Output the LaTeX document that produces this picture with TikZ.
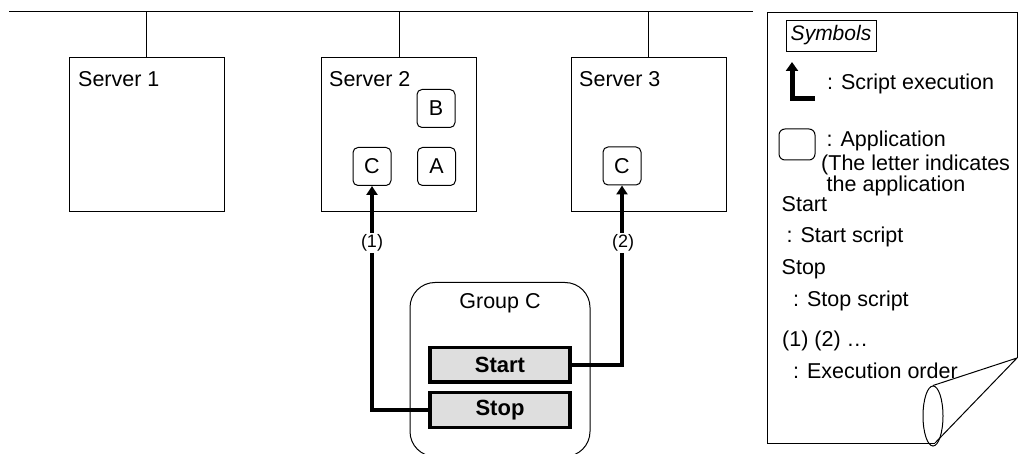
\documentclass[tikz,border=0pt]{standalone}
\usepackage{fontspec}
\setmainfont{Liberation Sans}
\usetikzlibrary{arrows.meta,calc,shapes.geometric}
\begin{document}
\begin{tikzpicture}[x=1pt,y=-1pt,
  font=\fontsize{21.5}{24}\selectfont,
  thinline/.style={line width=1pt},
  server/.style={draw, line width=1pt, minimum width=155pt, minimum height=154pt, inner sep=0pt},
  app/.style={draw, line width=1pt, rounded corners=5pt, minimum width=38pt, minimum height=38pt, inner sep=0pt},
  scriptbox/.style={draw, line width=3.5pt, fill=black!13, minimum width=140pt, minimum height=34.5pt, inner sep=0pt, font=\fontsize{22}{24}\selectfont\bfseries},
  exec/.style={line width=4pt, -{Triangle[length=9pt,width=11pt]}},
  order/.style={fill=white, inner sep=2pt, font=\fontsize{18}{20}\selectfont},
  txt/.style={inner sep=0pt, anchor=base west},
  group/.style={draw, line width=1pt, rounded corners=25pt, minimum width=180pt, minimum height=174pt, inner sep=0pt}
]
\useasboundingbox (0,0) rectangle (1018,454);

% LAN line
\coordinate (lanL) at (9,12);
\coordinate (lanR) at (753,12);
\draw[thinline] (lanL) -- (lanR);

% servers
\node[server] (s1) at (146.5,135) {};
\node[server] (s2) at (399,135) {};
\node[server] (s3) at (648.5,135) {};
\draw[thinline] (s1.north) -- (s1.north |- lanL);
\draw[thinline] (s2.north) -- (s2.north |- lanL);
\draw[thinline] (s3.north) -- (s3.north |- lanL);
\node[txt] (t1) at (78,87) {Server 1};
\node[txt] (t2) at (329,87) {Server 2};
\node[txt] (t3) at (579,87) {Server 3};

% applications
\node[app] (appB) at (436,108.5) {B};
\node[app] (appC2) at (372,166.5) {C};
\node[app] (appA) at (436.5,166.5) {A};
\node[app] (appC3) at (622,166) {C};

% group C
\node[group] (grp) at (500,369.5) {};
\node[inner sep=0pt, anchor=base] (gname) at (500,309) {Group C};
\node[scriptbox] (start) at (500,365) {Start};
\node[scriptbox] (stop) at (500,410) {Stop};

% script execution
\draw[exec] (stop.west) -| (appC2.south);
\draw[exec] (start.east) -| (appC3.south);
\node[order] (o1) at (372,243) {(1)};
\node[order] (o2) at (623,243) {(2)};

% legend paper
\coordinate (pTL) at (767,13);
\coordinate (pTR) at (1017,13);
\coordinate (pCR) at (1017,358);
\coordinate (pCB) at (935,443);
\coordinate (pBL) at (767,443);
\draw[thinline] (pCB) -- (pBL) -- (pTL) -- (pTR) -- (pCR);
\node[draw, thinline, ellipse, minimum width=20pt, minimum height=60pt, inner sep=0pt] (curl) at (933,416) {};
\draw[thinline] (curl.north) -- (pCR) -- (pCB);

\node[draw, line width=0.8pt, minimum width=90pt, minimum height=31pt, inner sep=0pt, font=\fontsize{21}{24}\selectfont\itshape] (sym) at (831,35.5) {Symbols};

\coordinate (la0) at (815,99);
\coordinate (la1) at (792,99);
\coordinate (la2) at (792,62);
\draw[line width=5pt, -{Triangle[length=9pt,width=12pt]}] (la0) -- (la1) -- (la2);
\node[txt] (lt1) at (827,90) {: Script execution};

\node[app, minimum width=36pt, minimum height=31pt, rounded corners=6pt] (lapp) at (797,144.5) {};
\node[txt] (lt2) at (826.5,146.5) {: Application};
\node[txt] (lt3) at (821,171) {(The letter indicates};
\node[txt] (lt4) at (826.5,192) {the application};
\node[txt] (lt5) at (781.5,212) {Start};
\node[txt] (lt6) at (786.5,243) {: Start script};
\node[txt] (lt7) at (781.5,275) {Stop};
\node[txt] (lt8) at (793,307) {: Stop script};
\node[txt] (lt9) at (782,347) {(1) (2) \dots};
\node[txt] (lt10) at (793,378) {: Execution order};
\end{tikzpicture}
\end{document}
